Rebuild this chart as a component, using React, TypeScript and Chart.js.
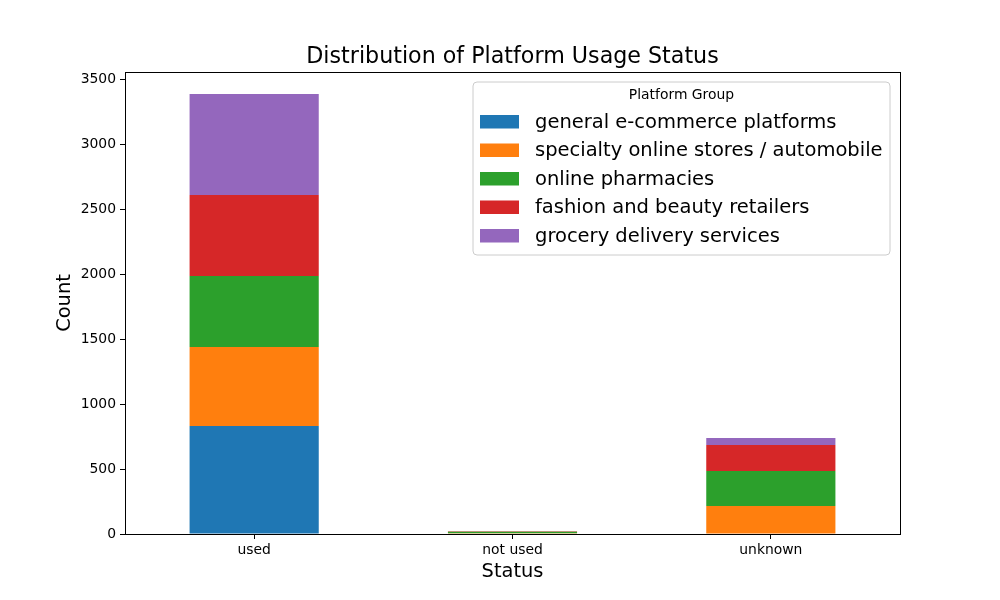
import React, { useEffect, useRef } from "react";
import { Chart, registerables } from "chart.js";

Chart.register(...registerables);

const categories = ["used", "not used", "unknown"];
const seriesNames = [
  "general e-commerce platforms",
  "specialty online stores / automobile",
  "online pharmacies",
  "fashion and beauty retailers",
  "grocery delivery services",
];
const generalEcommerce = [830, 0, 0];
const specialtyStores = [608, 6, 215];
const onlinePharmacies = [547, 12, 270];
const fashionBeauty = [623, 4, 200];
const groceryDelivery = [777, 0, 53];
const seriesColors = ["#1f77b4", "#ff7f0e", "#2ca02c", "#d62728", "#9467bd"];
const yTickValues = [0, 500, 1000, 1500, 2000, 2500, 3000, 3500];
const titleText = "Distribution of Platform Usage Status";
const xTitle = "Status";
const yTitle = "Count";
const legendTitle = "Platform Group";

const FONT = "'DejaVu Sans', sans-serif";

const seriesValues = [generalEcommerce, specialtyStores, onlinePharmacies, fashionBeauty, groceryDelivery];

const decorPlugin = {
  id: "decor",
  afterDraw(chart: any) {
    const ctx = chart.ctx;
    const ca = chart.chartArea;
    ctx.save();
    // frame
    ctx.strokeStyle = "#000";
    ctx.lineWidth = 1;
    ctx.strokeRect(Math.round(ca.left) + 0.5, Math.round(ca.top) + 0.5, Math.round(ca.right - ca.left), Math.round(ca.bottom - ca.top));
    // title
    ctx.fillStyle = "#000";
    ctx.textAlign = "center";
    ctx.textBaseline = "middle";
    ctx.font = `22.2px ${FONT}`;
    ctx.fillText(titleText, (ca.left + ca.right) / 2, 57);
    // axis titles
    ctx.font = `19.4px ${FONT}`;
    ctx.fillText(xTitle, (ca.left + ca.right) / 2, 572);
    ctx.save();
    ctx.translate(65, (ca.top + ca.bottom) / 2);
    ctx.rotate(-Math.PI / 2);
    ctx.fillText(yTitle, 0, 0);
    ctx.restore();
    // legend
    const lx = 473, ly = 82, lw = 417, lh = 173, r = 4;
    ctx.beginPath();
    ctx.moveTo(lx + r, ly);
    ctx.lineTo(lx + lw - r, ly);
    ctx.quadraticCurveTo(lx + lw, ly, lx + lw, ly + r);
    ctx.lineTo(lx + lw, ly + lh - r);
    ctx.quadraticCurveTo(lx + lw, ly + lh, lx + lw - r, ly + lh);
    ctx.lineTo(lx + r, ly + lh);
    ctx.quadraticCurveTo(lx, ly + lh, lx, ly + lh - r);
    ctx.lineTo(lx, ly + r);
    ctx.quadraticCurveTo(lx, ly, lx + r, ly);
    ctx.closePath();
    ctx.fillStyle = "rgba(255,255,255,0.8)";
    ctx.fill();
    ctx.strokeStyle = "#cccccc";
    ctx.lineWidth = 1;
    ctx.stroke();
    ctx.fillStyle = "#000";
    ctx.font = `13.9px ${FONT}`;
    ctx.textAlign = "center";
    ctx.fillText(legendTitle, lx + lw / 2, 95.5);
    ctx.font = `19.5px ${FONT}`;
    ctx.textAlign = "left";
    chart.data.datasets.forEach((ds: any, i: number) => {
      const cy = 121.5 + i * 28.5;
      ctx.fillStyle = ds.backgroundColor;
      ctx.fillRect(480, cy - 6.5, 39, 13.5);
      ctx.fillStyle = "#000";
      ctx.fillText(ds.label, 535, cy + 1);
    });
    ctx.restore();
  },
};

export default function App() {
  const ref = useRef<HTMLCanvasElement>(null);
  useEffect(() => {
    if (!ref.current) return;
    const totals = categories.map((_, j) => seriesValues.reduce((s, arr) => s + arr[j], 0));
    const yMax = Math.max(...totals) * 1.05;
    const chart = new Chart(ref.current, {
      type: "bar",
      data: {
        labels: categories,
        datasets: seriesNames.map((name, i) => ({
          label: name,
          data: seriesValues[i],
          backgroundColor: seriesColors[i],
          borderWidth: 0,
          categoryPercentage: 1,
          barPercentage: 0.5,
        })),
      },
      options: {
        animation: false,
        responsive: false,
        maintainAspectRatio: false,
        layout: { padding: { top: 72, right: 100, left: 0, bottom: 0 } },
        plugins: {
          legend: { display: false },
          title: { display: false },
          tooltip: { enabled: false },
        },
        scales: {
          x: {
            stacked: true,
            offset: true,
            grid: { display: true, offset: false, drawOnChartArea: false, tickLength: 5, color: "#000", tickWidth: 1 },
            border: { display: true, color: "#000", width: 1 },
            ticks: { color: "#000", font: { family: FONT, size: 13.9 }, padding: 3 },
            afterFit: (s: any) => { s.height = 66; },
          },
          y: {
            stacked: true,
            min: 0,
            max: yMax,
            grid: { display: true, drawOnChartArea: false, tickLength: 5, color: "#000", tickWidth: 1 },
            border: { display: true, color: "#000", width: 1 },
            ticks: {
              color: "#000",
              font: { family: FONT, size: 13.9 },
              padding: 4,
              callback: (v: any) => String(v),
            },
            afterBuildTicks: (s: any) => { s.ticks = yTickValues.map((v) => ({ value: v })); },
            afterFit: (s: any) => { s.width = 125; },
          },
        },
      },
      plugins: [decorPlugin],
    });
    return () => chart.destroy();
  }, []);
  return (
    <div style={{ position: "fixed", left: 0, top: 0, width: 1000, height: 600, background: "#fff" }}>
      <canvas ref={ref} width={1000} height={600} style={{ width: 1000, height: 600, display: "block" }} />
    </div>
  );
}
